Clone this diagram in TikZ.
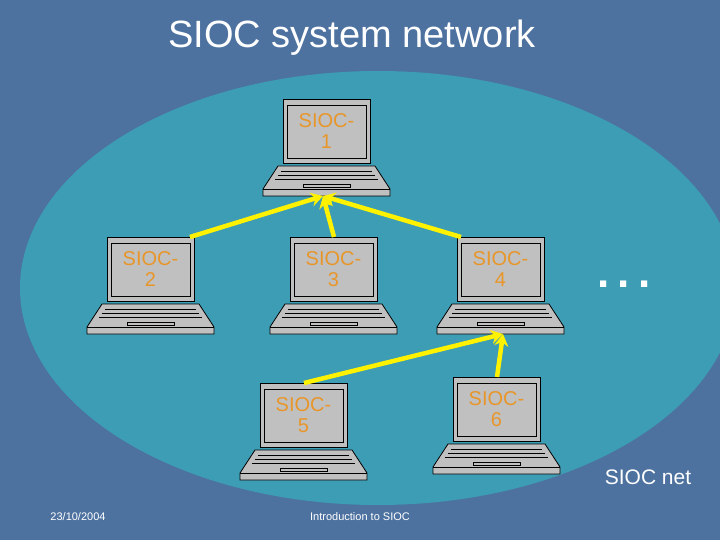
\documentclass[tikz,border=0pt]{standalone}
\usepackage{fontspec}
\setmainfont{Liberation Sans}
\usetikzlibrary{arrows.meta}
\definecolor{bgc}{HTML}{4D72A0}
\definecolor{oval}{HTML}{3C9DB4}
\definecolor{org}{HTML}{E8962A}
\definecolor{lgray}{HTML}{C0C0C0}
\begin{document}
\begin{tikzpicture}[x=1pt,y=-1pt,
  scr/.style={draw=black,fill=lgray,minimum width=87pt,minimum height=64pt,anchor=north west,inner sep=0pt,line width=1pt},
  lab/.style={text=org,font=\fontsize{20}{21}\selectfont,align=center},
  link/.style={draw=yellow,line width=4.5pt},
  tip/.style={link,-{Stealth[length=12pt,width=14pt]}}]
\useasboundingbox (0,0) rectangle (720,540);
\fill[bgc] (0,0) rectangle (720,540);
\fill[oval] (378,288) ellipse [x radius=358, y radius=217];
\newcommand\laptop[4]{%
  \node[scr] (#1) at (#2,#3) {};
  \draw[fill=lgray,line width=0.8pt] (#2+4,#3+6) rectangle (#2+83,#3+59);
  \node[lab] at (#2+43.5,#3+32) {#4};
  \draw[fill=lgray,line width=0.8pt] (#2-5,#3+67) -- (#2+92,#3+67) -- (#2+107,#3+90) -- (#2+107,#3+97) -- (#2-20,#3+97) -- (#2-20,#3+90) -- cycle;
  \draw[line width=0.8pt] (#2-20,#3+90) -- (#2+107,#3+90);
  \draw[line width=0.8pt] (#2-2,#3+72) -- (#2+89,#3+72) (#2-5,#3+76) -- (#2+92,#3+76) (#2-8,#3+80) -- (#2+95,#3+80);
  \draw[line width=0.8pt] (#2+20,#3+85) rectangle (#2+67,#3+88);
  \coordinate (#1b) at (#2+40,#3+97);
}
\laptop{s1}{283}{99}{SIOC-\\1}
\laptop{s2}{107}{237}{SIOC-\\2}
\laptop{s3}{290}{237}{SIOC-\\3}
\laptop{s4}{457}{237}{SIOC-\\4}
\laptop{s5}{260}{383}{SIOC-\\5}
\laptop{s6}{453}{377}{SIOC-\\6}
\draw[tip] ([xshift=-5pt]s2.north east) -- (s1b);
\draw[tip] (s3.north) -- (s1b);
\draw[tip] ([xshift=4pt]s4.north west) -- (s1b);
\draw[tip] (s5.north) -- ([xshift=6pt]s4b);
\draw[tip] (s6.north) -- ([xshift=6pt]s4b);
\node[text=white,font=\fontsize{38}{40}\selectfont] (t) at (352,38) {SIOC system network};
\node[text=white,font=\fontsize{44}{44}\selectfont\bfseries] (d) at (624,284) {.\hspace{8pt}.\hspace{8pt}.};
\node[text=white,font=\fontsize{21}{22}\selectfont] (n) at (648,477) {SIOC net};
\node[text=white,font=\fontsize{11}{12}\selectfont] (f1) at (78,517) {23/10/2004};
\node[text=white,font=\fontsize{11}{12}\selectfont] (f2) at (360,517) {Introduction to SIOC};
\end{tikzpicture}
\end{document}
